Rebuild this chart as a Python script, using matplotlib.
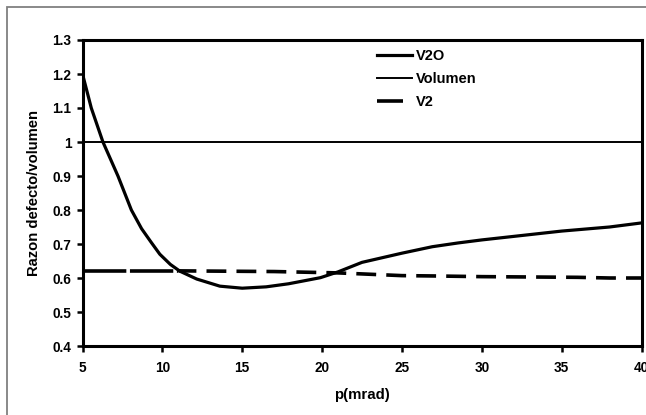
import matplotlib
matplotlib.use("Agg")
import matplotlib.pyplot as plt
from matplotlib.lines import Line2D
from matplotlib.patches import Rectangle

plt.rcParams['font.family'] = ['Liberation Sans', 'DejaVu Sans']

# Data
x_v2o = [5, 5.55, 6.28, 7.22, 8.06, 8.7, 9.3, 9.84, 10.5, 11.1, 12.15, 13.6, 15, 16.5, 17.9, 19.9, 21, 22.5, 25, 26.9, 28.5, 30, 35, 38, 40]
y_v2o = [1.2, 1.1, 1.0, 0.9, 0.8, 0.745, 0.705, 0.67, 0.64, 0.62, 0.597, 0.576, 0.57, 0.574, 0.583, 0.601, 0.618, 0.646, 0.673, 0.692, 0.703, 0.712, 0.738, 0.75, 0.762]

x_vol = [5, 40]
y_vol = [1.0, 1.0]

x_v2 = [5, 8, 11, 14, 17, 19, 21, 23, 25, 27, 30, 33, 36, 38, 40]
y_v2 = [0.621, 0.621, 0.621, 0.62, 0.619, 0.617, 0.615, 0.611, 0.607, 0.606, 0.604, 0.603, 0.602, 0.6, 0.6]

xticks = [5, 10, 15, 20, 25, 30, 35, 40]
yticks = [0.4, 0.5, 0.6, 0.7, 0.8, 0.9, 1.0, 1.1, 1.2, 1.3]
ytick_labels = ['0.4', '0.5', '0.6', '0.7', '0.8', '0.9', '1', '1.1', '1.2', '1.3']

W, H = 646, 415
fig = plt.figure(figsize=(W / 100, H / 100), dpi=100)

# outer chart frame (cropped on right/bottom)
fig.patches.append(Rectangle((7 / W, -0.1), 1.2, (H - 7) / H + 0.1, transform=fig.transFigure,
                             fill=False, edgecolor='#808080', linewidth=1.3))

ax = fig.add_axes([82.5 / W, (H - 346) / H, (641.5 - 82.5) / W, (346 - 40) / H])

ax.plot(x_vol, y_vol, color='black', linewidth=1.4, solid_capstyle='butt', label='Volumen', zorder=2)
# V2: the first segments are drawn with long dashes, the rest with regular dashes
ax.plot(x_v2[:3], y_v2[:3], color='black', linewidth=2.6, linestyle=(0, (12, 1)), zorder=2)
ax.plot(x_v2[2:], y_v2[2:], color='black', linewidth=2.6, linestyle=(0.5, (5.5, 2.8)), zorder=2)
ax.plot(x_v2o, y_v2o, color='black', linewidth=2.3, label='V2O', zorder=3)

ax.set_xlim(5, 40)
ax.set_ylim(0.4, 1.3)
ax.set_xticks(xticks)
ax.set_yticks(yticks)
ax.set_xticklabels([str(t) for t in xticks], fontsize=9.8, fontweight='bold')
ax.set_yticklabels(ytick_labels, fontsize=9.8, fontweight='bold')
ax.tick_params(direction='out', length=4, width=1.8)
ax.tick_params(axis='x', pad=7)
ax.tick_params(axis='y', pad=4)
for s in ax.spines.values():
    s.set_linewidth(2.2)
    s.set_color('black')

ax.set_xlabel('p(mrad)', fontsize=10.8, fontweight='bold', labelpad=9)
ax.set_ylabel('Razon defecto/volumen', fontsize=10.6, fontweight='bold', labelpad=8)

handles = [
    Line2D([], [], color='black', linewidth=2.3),
    Line2D([], [], color='black', linewidth=1.4),
    Line2D([], [], color='black', linewidth=2.6, linestyle=(0, (7.2, 3))),
]
leg = ax.legend(handles, ['V2O', 'Volumen', 'V2'], loc='upper left',
                bbox_to_anchor=(371 / W, (H - 43.5) / H), bbox_transform=fig.transFigure,
                borderaxespad=0, frameon=False, handlelength=2.4, handletextpad=0.3,
                labelspacing=0.62, prop={'size': 10.5, 'weight': 'bold'})

fig.savefig('out.png', dpi=100)
